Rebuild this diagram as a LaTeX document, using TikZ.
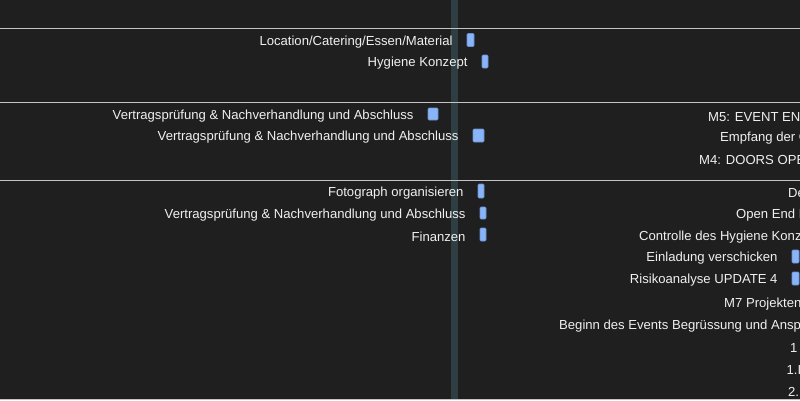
\documentclass[tikz,border=0pt]{standalone}
\usepackage{fontspec}
\setmainfont{Liberation Sans}
\usetikzlibrary{positioning}
\definecolor{bgdark}{HTML}{1F1F1F}
\definecolor{todayband}{HTML}{2F3E42}
\definecolor{gridline}{HTML}{C4C4C4}
\definecolor{barblue}{HTML}{8AB4F8}
\definecolor{barline}{HTML}{6A8FD0}
\definecolor{txtlight}{HTML}{F0F0F0}

\begin{document}
\begin{tikzpicture}[x=1pt,y=-1pt,node distance=14pt,
		task/.style={text=txtlight,inner sep=0pt,yshift=-2pt,font=\fontsize{13.1}{15}\selectfont},
		cut/.style={task,anchor=west},
		bar/.style={rectangle,draw=barline,fill=barblue,line width=0.6pt,rounded corners=1pt,inner sep=0pt,minimum width=6pt,minimum height=13pt}]
		\useasboundingbox (0,0) rectangle (800,400);
		\clip (0,0) rectangle (800,400);
		\fill[bgdark] (0,0) rectangle (800,400);
		\fill[todayband] (451,0) rectangle (458,400);
		
		\coordinate (g1w) at (0,28);    \coordinate (g1e) at (800,28);
		\coordinate (g2w) at (0,102);   \coordinate (g2e) at (800,102);
		\coordinate (g3w) at (0,180);   \coordinate (g3e) at (800,180);
		\coordinate (g4w) at (0,399);   \coordinate (g4e) at (800,399);
		\path[draw=gridline,line width=1pt]
		(g1w) -- (g1e)
		(g2w) -- (g2e)
		(g3w) -- (g3e)
		(g4w) -- (g4e);
		
		\node[bar,minimum width=7pt]  (bLoc)  at (470.5,40)  {};
		\node[bar]                    (bHyg)  at (485,61.5)  {};
		\node[bar,minimum width=10pt,minimum height=12pt] (bVa) at (433,114) {};
		\node[bar,minimum width=11pt] (bVb)   at (478.5,135.5) {};
		\node[bar,minimum height=14pt] (bFoto) at (481,191) {};
		\node[bar,minimum height=12pt] (bVc)  at (483,213)   {};
		\node[bar]                    (bFin)  at (483,234.5) {};
		\node[bar,minimum width=7pt]  (bEinl) at (795.5,256.5) {};
		\node[bar,minimum width=7pt]  (bRisk) at (795.5,278.5) {};
		
		\node[task] (tLoc)  [left=of bLoc]  {Location/Catering/Essen/Material};
		\node[task] (tHyg)  [left=of bHyg]  {Hygiene Konzept};
		\node[task] (tVa)   [left=of bVa]   {Vertragsprüfung \& Nachverhandlung und Abschluss};
		\node[task] (tVb)   [left=of bVb]   {Vertragsprüfung \& Nachverhandlung und Abschluss};
		\node[task] (tFoto) [left=of bFoto] {Fotograph organisieren};
		\node[task] (tVc)   [left=of bVc]   {Vertragsprüfung \& Nachverhandlung und Abschluss};
		\node[task] (tFin)  [left=of bFin]  {Finanzen};
		\node[task] (tEinl) [left=of bEinl] {Einladung verschicken};
		\node[task] (tRisk) [left=of bRisk] {Risikoanalyse UPDATE 4};
		
		\node[cut] (tEnde)   at (708,115) {M5: EVENT END};
		\node[cut] (tEmpf)   at (720,136) {Empfang der G};
		\node[cut] (tDoors)  at (699,158) {M4: DOORS OPE};
		\node[cut] (tDe)     at (788,191) {De};
		\node[cut] (tOpen)   at (736,213) {Open End P};
		\node[cut] (tContr)  at (639,235) {Controlle des Hygiene Konz};
		\node[cut] (tProj)   at (724,302) {M7 Projekten};
		\node[cut] (tBeginn) at (559,324) {Beginn des Events Begrüssung und Ansp};
		\node[cut] (tEins)   at (790,346) {1};
		\node[cut] (tEinsI)  at (786.5,368) {1.I};
		\node[cut] (tZwei)   at (788,390) {2.};
		\end{tikzpicture}
\end{document}
